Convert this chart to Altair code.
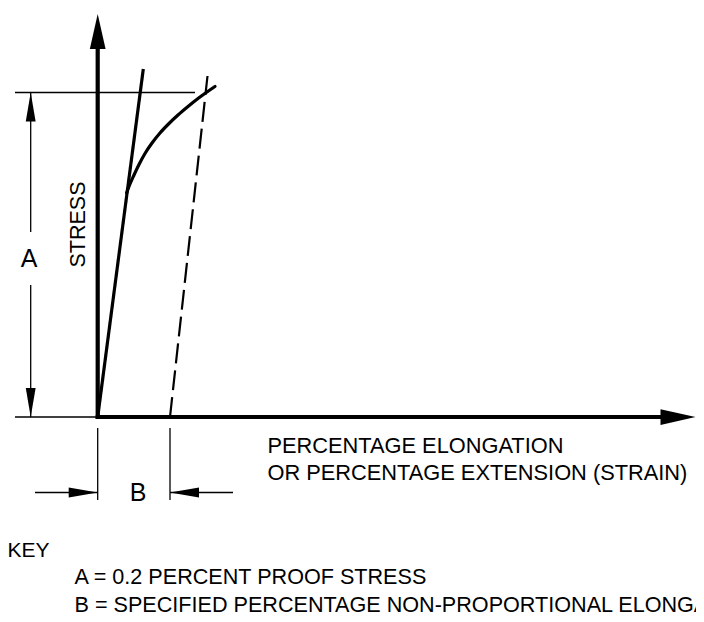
import altair as alt
import pandas as pd

FONT = "Liberation Sans"

# ---- data (drawing units: x to the right, y downward, as on the sheet) ----
# stress-strain curve past the proportional limit
curve_x = [126.6, 130, 134, 139, 145, 152, 160, 169, 178, 188, 198, 207, 215]
curve_y = [193, 184, 175, 164.5, 153.5, 143, 133, 123.5, 115, 106.5, 98.5, 92, 86.5]

# proportional line and 0.2 % offset line
elastic = {"x": 97.7, "y": 417, "x2": 143.3, "y2": 69}
offset = {"x": 170, "y": 417, "x2": 207.5, "y2": 76}

# axes (thick) and dimension / extension lines (thin)
axis_x1 = [97.7, 95.7]
axis_y1 = [419, 417]
axis_x2 = [97.7, 670]
axis_y2 = [40, 417]

thin_x1 = [15, 15, 30.7, 30.7, 97.7, 170, 35, 233]
thin_y1 = [92.5, 417, 92.5, 285, 428, 428, 492.5, 492.5]
thin_x2 = [195, 97.7, 30.7, 30.7, 97.7, 170, 97.7, 170]
thin_y2 = [92.5, 417, 232, 417, 500, 500, 492.5, 492.5]

# arrow heads: tip position and direction (0 up, 90 right, 180 down, 270 left)
axis_arrow_x = [97.7, 695.5]
axis_arrow_y = [14, 417]
axis_arrow_dir = [0, 90]

dim_arrow_x = [30.7, 30.7, 97.7, 170]
dim_arrow_y = [92.5, 417, 492.5, 492.5]
dim_arrow_dir = [0, 180, 90, 270]

# texts
axis_label = ["PERCENTAGE ELONGATION", "OR PERCENTAGE EXTENSION (STRAIN)"]
axis_label_x = [267.5, 267.5]
axis_label_y = [453.3, 480]

key_head = ["KEY"]
key_head_x = [7.5]
key_head_y = [557.3]

key_text = ["A = 0.2 PERCENT PROOF STRESS",
            "B = SPECIFIED PERCENTAGE NON-PROPORTIONAL ELONGATION"]
key_x = [74.5, 74.5]
key_y = [584, 611.7]

dim_text = ["A", "B"]
dim_text_x = [29, 138]
dim_text_y = [266.5, 500.5]

y_label = ["STRESS"]
y_label_x = [85]
y_label_y = [224.5]

# ---- chart ----
W, H = 688, 606
xs = alt.Scale(domain=[8, 8 + W], nice=False, zero=False)
ys = alt.Scale(domain=[8, 8 + H], nice=False, zero=False, reverse=True)


def X(f):
    return alt.X(f, type="quantitative", scale=xs, axis=None)


def Y(f):
    return alt.Y(f, type="quantitative", scale=ys, axis=None)


def texts(labels, xv, yv, **kw):
    df = pd.DataFrame({"t": labels, "x": xv, "y": yv})
    return alt.Chart(df).mark_text(font=FONT, color="black", **kw).encode(
        x=X("x"), y=Y("y"), text="t:N"
    )


curve_df = pd.DataFrame({"x": curve_x, "y": curve_y, "i": range(len(curve_x))})
curve = alt.Chart(curve_df).mark_line(
    color="black", strokeWidth=3.2, interpolate="monotone", strokeCap="round"
).encode(x=X("x"), y=Y("y"), order="i:Q")

elastic_line = alt.Chart(pd.DataFrame([elastic])).mark_rule(
    color="black", strokeWidth=3.2
).encode(x=X("x"), y=Y("y"), x2="x2:Q", y2="y2:Q")

offset_line = alt.Chart(pd.DataFrame([offset])).mark_rule(
    color="black", strokeWidth=2.2, strokeDash=[20, 7]
).encode(x=X("x"), y=Y("y"), x2="x2:Q", y2="y2:Q")

axes = alt.Chart(pd.DataFrame({"x": axis_x1, "y": axis_y1, "x2": axis_x2, "y2": axis_y2})).mark_rule(
    color="black", strokeWidth=4.2
).encode(x=X("x"), y=Y("y"), x2="x2:Q", y2="y2:Q")

thin = alt.Chart(pd.DataFrame({"x": thin_x1, "y": thin_y1, "x2": thin_x2, "y2": thin_y2})).mark_rule(
    color="black", strokeWidth=1.3
).encode(x=X("x"), y=Y("y"), x2="x2:Q", y2="y2:Q")

axis_arrows = alt.Chart(pd.DataFrame({"x": axis_arrow_x, "y": axis_arrow_y, "a": axis_arrow_dir})).mark_point(
    shape="M0,0L-0.45,2L0.45,2Z", filled=True, color="black", opacity=1, size=1225, strokeWidth=0
).encode(x=X("x"), y=Y("y"), angle=alt.Angle("a:Q", scale=None))

dim_arrows = alt.Chart(pd.DataFrame({"x": dim_arrow_x, "y": dim_arrow_y, "a": dim_arrow_dir})).mark_point(
    shape="M0,0L-0.34,2L0.34,2Z", filled=True, color="black", opacity=1, size=841, strokeWidth=0
).encode(x=X("x"), y=Y("y"), angle=alt.Angle("a:Q", scale=None))

axis_text = texts(axis_label, axis_label_x, axis_label_y,
                  fontSize=21.8, align="left", baseline="alphabetic")
key_h = texts(key_head, key_head_x, key_head_y,
              fontSize=21, align="left", baseline="alphabetic")
key = texts(key_text, key_x, key_y,
            fontSize=21.6, align="left", baseline="alphabetic")
dims = texts(dim_text, dim_text_x, dim_text_y,
             fontSize=25, align="center", baseline="alphabetic")
ylab = texts(y_label, y_label_x, y_label_y,
             fontSize=21.5, align="center", baseline="alphabetic", angle=270)

chart = alt.layer(
    thin, offset_line, elastic_line, curve, axes, axis_arrows, dim_arrows,
    axis_text, key_h, key, dims, ylab
).properties(
    width=W, height=H, padding=0, autosize=alt.AutoSizeParams(type="none"),
    background="white"
).configure_view(stroke=None)

chart.save("out.html", embed_options={"renderer": "svg", "actions": False})
